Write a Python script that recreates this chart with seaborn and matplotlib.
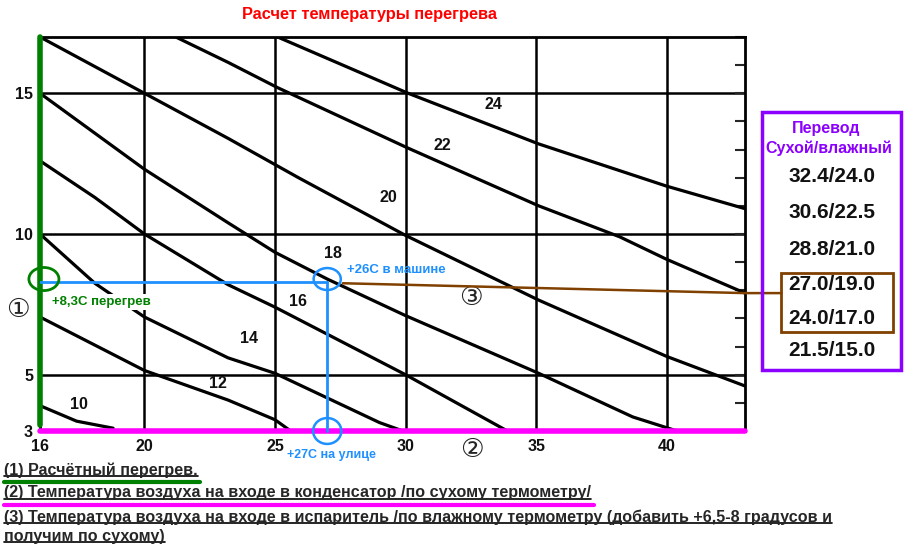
import numpy as np
import pandas as pd
import matplotlib
matplotlib.use('Agg')
import matplotlib.pyplot as plt
import seaborn as sns
from matplotlib.patches import Ellipse, Rectangle
from matplotlib.lines import Line2D
from matplotlib.ticker import MultipleLocator

# superheat (y) vs condenser inlet air temp (x), one curve per evaporator wet bulb temp
wet24_x = [25.1, 30.1, 35.1, 40.0, 43.0]
wet24_y = [17.0, 15.0, 13.2, 11.7, 10.9]
wet22_x = [21.2, 23.2, 25.1, 30.1, 35.1, 38.2, 40.0, 43.0]
wet22_y = [17.0, 16.1, 15.2, 13.05, 11.0, 9.9, 9.1, 7.9]
wet20_x = [16.0, 20.0, 23.2, 25.9, 30.0, 35.1, 40.0, 43.0]
wet20_y = [17.0, 15.0, 13.4, 12.0, 9.95, 7.65, 5.65, 4.6]
wet18_x = [16.0, 20.0, 23.2, 25.0, 27.0, 30.0, 35.1, 38.7, 40.4]
wet18_y = [15.0, 12.3, 10.4, 9.35, 8.4, 7.1, 5.05, 3.5, 3.0]
wet16_x = [16.0, 18.1, 20.0, 23.2, 25.0, 30.0, 33.9]
wet16_y = [12.6, 11.3, 10.0, 8.2, 7.4, 5.0, 3.0]
wet14_x = [16.0, 18.1, 20.0, 23.2, 25.0, 29.0, 29.9]
wet14_y = [10.0, 8.25, 7.05, 5.6, 5.05, 3.3, 3.0]
wet12_x = [16.0, 20.0, 23.2, 25.0, 25.6]
wet12_y = [7.05, 5.15, 4.1, 3.4, 3.0]
wet10_x = [16.0, 17.4, 18.8]
wet10_y = [3.9, 3.35, 3.1]

wet_temps = [24, 22, 20, 18, 16, 14, 12, 10]
label_x = [33.35, 31.4, 29.35, 27.2, 25.9, 24.0, 22.8, 17.5]
label_y = [14.6, 13.15, 11.3, 9.3, 7.6, 6.3, 4.7, 3.95]

# worked example
outside_temp = 27
superheat = 8.3

# dry / wet bulb conversion table
dry_bulb = ['32.4', '30.6', '28.8', '27.0', '24.0', '21.5']
wet_bulb = ['24.0', '22.5', '21.0', '19.0', '17.0', '15.0']

xs = [wet24_x, wet22_x, wet20_x, wet18_x, wet16_x, wet14_x, wet12_x, wet10_x]
ys = [wet24_y, wet22_y, wet20_y, wet18_y, wet16_y, wet14_y, wet12_y, wet10_y]
rows = []
for w, cx, cy in zip(wet_temps, xs, ys):
    for a, b in zip(cx, cy):
        rows.append((a, b, w))
df = pd.DataFrame(rows, columns=['cond', 'sh', 'wet'])

sns.set_style('white')
plt.rcParams['font.family'] = ['Liberation Sans', 'DejaVu Sans', 'Noto Sans CJK JP']
plt.rcParams['font.weight'] = 'bold'

W, H = 911, 546
def fx(px):
    return px / W
def fy(py):
    return 1 - py / H

fig = plt.figure(figsize=(9.11, 5.46), dpi=100)
ax = fig.add_axes([fx(40), fy(431), (745 - 40) / W, (431 - 37) / H])

sns.lineplot(data=df, x='cond', y='sh', hue='wet', units='wet', estimator=None,
             sort=False, palette={w: 'black' for w in wet_temps}, legend=False,
             linewidth=2.3, ax=ax)

ax.set_xlim(16, 43)
ax.set_ylim(3, 17)
ax.set_xticks([16, 20, 25, 30, 35, 40])
ax.set_yticks([3, 5, 10, 15])
ax.xaxis.set_minor_locator(MultipleLocator(1))
ax.yaxis.set_minor_locator(MultipleLocator(1))
ax.grid(True, which='major', color='black', linewidth=1.8)
ax.tick_params(which='both', direction='in', length=7, width=1.5, top=False, right=True,
               labelsize=11.5, labelcolor='#111111')
ax.tick_params(axis='x', pad=6)
ax.tick_params(axis='y', pad=5)
ax.set_xlabel('')
ax.set_ylabel('')
for s in ax.spines.values():
    s.set_linewidth(2)
    s.set_color('black')

for w, lx, ly in zip(wet_temps, label_x, label_y):
    ax.text(lx, ly, str(w), ha='center', va='center', fontsize=11.5, color='#111111')

# overlay drawn on top of the scan
green = '#008000'
blue = '#1e90ff'
magenta = '#ff00ff'
brown = '#804000'
purple = '#8b00ff'

ax.plot([16, 16], [3.2, 17], color=green, lw=4, clip_on=False, zorder=5)
ax.plot([16, 43], [3, 3], color=magenta, lw=4, clip_on=False, zorder=5)
ax.plot([16, outside_temp], [superheat, superheat], color=blue, lw=2, zorder=6)
ax.plot([outside_temp, outside_temp], [3, superheat], color=blue, lw=2, zorder=6, clip_on=False)
ax.add_patch(Ellipse((16.15, superheat + 0.1), 1.15, 0.82, fill=False, ec=green, lw=2, clip_on=False, zorder=7))
ax.add_patch(Ellipse((outside_temp, superheat + 0.1), 1.04, 0.78, fill=False, ec=blue, lw=1.8, zorder=7))
ax.add_patch(Ellipse((outside_temp, 3.0), 1.08, 0.92, fill=False, ec=blue, lw=1.8, clip_on=False, zorder=7))
ax.plot([27.6, 43, 44.4], [8.25, 7.9, 7.9], color=brown, lw=1.8, clip_on=False, zorder=6)

ax.text(16.45, 7.6, '+8,3С перегрев', color=green, fontsize=9.5,
        ha='left', va='center', zorder=8,
        bbox=dict(boxstyle='square,pad=0.15', fc='white', ec='none'))
fig.text(fx(347), fy(270), '+26С в машине', color=blue, fontsize=9.5,
         ha='left', va='center')
fig.text(fx(287), fy(455), '+27С на улице', color=blue, fontsize=9,
         ha='left', va='center')

circ = ['DejaVu Sans', 'Noto Sans CJK JP']
fig.text(fx(18), fy(310), '①', fontsize=19, fontweight='normal', ha='center', va='center', family=circ)
fig.text(fx(472), fy(450), '②', fontsize=19, fontweight='normal', ha='center', va='center', family=circ)
ax.text(32.5, 7.73, '③', fontsize=19, fontweight='normal', ha='center', va='center', family=circ)

fig.text(fx(370), fy(14), 'Расчет температуры перегрева', color='red', fontsize=11.8,
         ha='center', va='center')

# conversion table
fig.add_artist(Rectangle((fx(762), fy(370)), (901 - 762) / W, (370 - 112) / H,
                         transform=fig.transFigure, fill=False, ec=purple, lw=2.5))
fig.add_artist(Rectangle((fx(781), fy(332)), (893 - 781) / W, (332 - 273) / H,
                         transform=fig.transFigure, fill=False, ec=brown, lw=2))
fig.text(fx(826), fy(128), 'Перевод', color=purple, fontsize=11.5,
         ha='center', va='center')
fig.text(fx(829), fy(148), 'Сухой/влажный', color=purple, fontsize=11.5,
         ha='center', va='center')
row_y = [176, 213, 250, 285, 319, 350]
for d, w, py in zip(dry_bulb, wet_bulb, row_y):
    fig.text(fx(832), fy(py), d + '/' + w, fontsize=15,
             ha='center', va='center', color='#111111')

# notes under the chart
notes = ['(1) Расчётный перегрев.',
         '(2) Температура воздуха на входе в конденсатор /по сухому термометру/',
         '(3) Температура воздуха на входе в испаритель /по влажному термометру (добавить +6,5-8 градусов и',
         'получим по сухому)']
note_y = [470, 493, 517, 536]
note_col = [green, magenta, None, None]
texts = []
for s, py in zip(notes, note_y):
    texts.append(fig.text(fx(4), fy(py), s, fontsize=11.6, ha='left', va='center'))
fig.canvas.draw()
inv = fig.transFigure.inverted()
for t, c in zip(texts, note_col):
    bb = t.get_window_extent().transformed(inv)
    fig.add_artist(Line2D([bb.x0, bb.x1], [bb.y0 + 0.003, bb.y0 + 0.003], transform=fig.transFigure,
                          color='black', lw=1.2))
    if c is not None:
        fig.add_artist(Line2D([bb.x0, bb.x1 + 0.003], [bb.y0 - 0.008, bb.y0 - 0.008],
                              transform=fig.transFigure, color=c, lw=3))

fig.savefig('out.png', dpi=100, facecolor='white')
